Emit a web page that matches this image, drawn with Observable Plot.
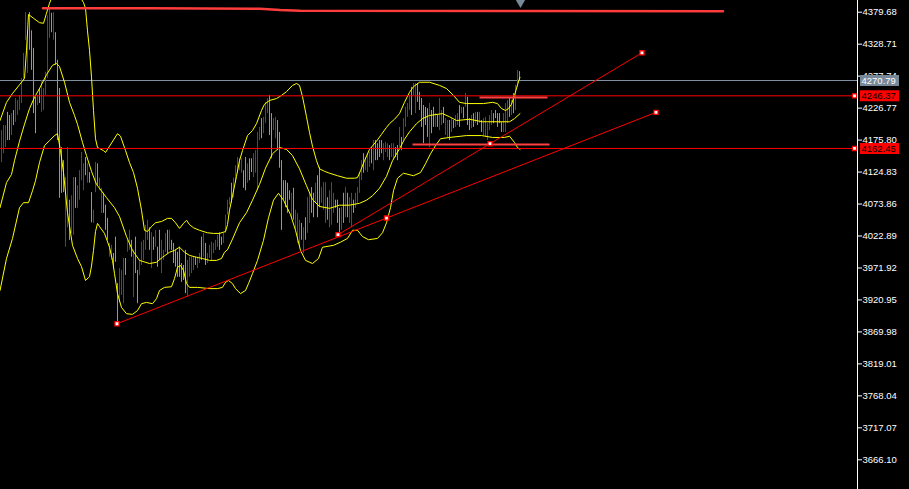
<!DOCTYPE html>
<html><head><meta charset="utf-8">
<script src="https://cdn.jsdelivr.net/npm/d3@7"></script>
<script src="https://cdn.jsdelivr.net/npm/@observablehq/plot@0.6"></script>
<style>
html,body{margin:0;padding:0;background:#000;overflow:hidden;}
#chart svg{display:block;}
</style></head><body><div id="chart"></div>
<script>
// ---- candle data (bar index 0..259), prices ----
const highs = [4191,4199,4199,4220,4215,4218,4223,4242,4239,4247,
4274,4314,4379,4350,4379,4350,4322,4244,4247,4258,
4271,4258,4284,4374,4386,4378,4379,4347,4303,4258,
4164,4143,4116,4164,4080,4087,4116,4116,4103,4127,
4156,4138,4148,4138,4124,4092,4064,4140,4138,4115,
4099,4091,4072,4051,4011,4008,3995,4021,3947,3971,
3968,3987,3987,4016,4032,4016,4000,4021,3968,3984,
4013,4016,4040,4048,4036,4028,4021,4032,4005,4032,
4016,4000,4027,4032,4032,4016,4011,4000,3997,4005,
3979,3976,4000,3984,3989,3989,3989,3989,3989,3995,
4021,4027,4011,3995,4008,4013,4011,4016,4024,4028,
4021,4027,4056,4080,4084,4107,4115,4135,4148,4146,
4146,4127,4148,4138,4146,4146,4154,4159,4188,4196,
4210,4212,4236,4242,4247,4218,4210,4212,4207,4188,
4143,4111,4111,4107,4095,4091,4099,4064,4059,4048,
4043,4036,4052,4084,4091,4100,4091,4107,4119,4132,
4100,4108,4108,4084,4095,4108,4091,4080,4080,4067,
4068,4091,4100,4091,4084,4091,4080,4091,4100,4123,
4143,4154,4148,4154,4156,4164,4175,4175,4170,4175,
4175,4170,4172,4170,4167,4170,4170,4164,4167,4196,
4180,4210,4228,4234,4247,4260,4266,4266,4266,4252,
4242,4231,4228,4226,4234,4223,4228,4218,4215,4242,
4223,4228,4210,4207,4207,4210,4207,4215,4218,4231,
4228,4228,4250,4244,4210,4215,4218,4220,4220,4220,
4207,4210,4212,4202,4215,4223,4218,4223,4218,4218,
4204,4218,4234,4239,4242,4239,4250,4263,4287,4285];
const lows = [4140,4154,4164,4175,4175,4183,4199,4204,4215,4223,
4234,4271,4335,4282,4319,4287,4218,4186,4231,4234,
4220,4223,4247,4274,4338,4347,4335,4295,4175,4083,
4091,4092,4005,4036,4016,4027,4024,4067,4067,4080,
4111,4095,4119,4107,4107,4044,4043,4092,4103,4095,
4059,4059,4032,4016,3989,3984,3971,3981,3885,3917,
3928,3915,3960,3997,4000,3989,3925,3963,3915,3960,
3976,3984,4000,4016,4000,3971,4000,4005,3973,3984,
3963,3984,3997,3995,4000,4000,3979,3973,3957,3957,
3949,3952,3931,3925,3957,3963,3968,3976,3971,3979,
3984,3989,3976,3979,3987,3984,3995,4000,4005,4000,
4008,4011,4027,4056,4072,4075,4084,4107,4123,4127,
4123,4099,4095,4107,4111,4124,4116,4123,4095,4175,
4178,4186,4202,4218,4183,4146,4191,4178,4159,4131,
4032,4080,4068,4059,4080,4052,4048,4032,4011,4005,
4016,3995,4016,4027,4043,4059,4052,4075,4052,4068,
4075,4064,4043,4048,4036,4040,4059,4067,4043,4027,
4032,4043,4052,4052,4043,4036,4059,4067,4075,4091,
4111,4123,4127,4124,4132,4138,4127,4143,4143,4148,
4154,4143,4156,4148,4143,4148,4143,4148,4143,4164,
4159,4175,4196,4212,4223,4215,4247,4218,4236,4223,
4196,4170,4199,4180,4164,4186,4196,4196,4196,4191,
4199,4202,4183,4180,4175,4188,4194,4196,4199,4196,
4218,4210,4228,4199,4191,4194,4196,4202,4199,4202,
4188,4183,4180,4175,4191,4199,4202,4210,4196,4202,
4188,4188,4188,4202,4212,4215,4218,4223,4260,4271];
// r = rising candle (red), g = falling candle (green)
const candleDir = ("rrrggrgrrr"+"rrrrggggrg"+"rrrrrgrggg"+"ggrrgrrgrr"+"rrgrggrrgr"+
"rgggrrgggr"+"rrgrrgrggr"+"rrrrgrgrgg"+"rrrgrggggg"+"gggrrrrgrr"+
"grgrrrrrrg"+"grrrrgrrrr"+"rggrggrrrr"+"grrrggrrgg"+"gggggrgrrr"+
"grgrrggrgg"+"rrrgrrrggg"+"rgrgrrgrrr"+"rgrrrgrggg"+"grrrgrrggr"+
"grrrrgrrgg"+"ggggrggrgr"+"rgrrgrgrrg"+"rgrggrgrgr"+"grrrrrgggg"+"grrrgrgrrg").split("");

// ---- Bollinger bands (bar index, price) ----
const upperIdx = [-0.75,2.5,5.5,9,11.5,12.5,13.5,16,19,21,22.5,24,27,32,37,39.5,41,42,43,44,45,46,47,48,51,52,54,58,59.5,62,64,66,68,70,71.5,73,75,77,80,83,85,87,89,91,92.5,94,96,99,103,106,109,112,113,114,115.5,117.5,119,120.5,123,125.5,127.5,130,131.5,134,137.5,140,142.5,145.5,147.5,149,150.5,152.5,154,155.5,157.5,159,161.5,164,168,172.5,176.5,178,179.5,181.5,184,187.5,190,192.5,194,196.5,199,201.5,204,206,209,214,219,222.5,226,229,232.5,241,245.5,248,250,252,253.5,255,256.5,258,259.25];
const upperVal = [4207,4236,4250,4264,4274,4319,4376,4370,4363,4362,4378,4394,4417,4438,4422,4403,4395,4386,4350,4319,4276,4223,4178,4164,4159,4156,4166,4186,4182,4159,4140,4124,4099,4064,4032,4030,4038,4044,4046,4051,4051,4044,4035,4043,4048,4041,4036,4032,4028,4027,4027,4030,4041,4064,4087,4118,4143,4159,4183,4191,4202,4223,4233,4239,4242,4247,4253,4263,4266,4263,4245,4213,4188,4166,4143,4130,4126,4123,4119,4115,4115,4116,4127,4143,4161,4174,4185,4196,4202,4209,4218,4236,4252,4261,4268,4268,4263,4258,4247,4236,4234,4234,4236,4234,4226,4223,4226,4233,4247,4264,4276];
const middleIdx = [-0.75,2.5,5,6.5,9,11.5,14,16.5,19,22.5,25.5,27.5,29,31.5,34,36.5,38,40.5,42.5,45,47.5,49,52.5,56.5,59,62.5,65.5,69,74,77.5,80.5,84,86.5,89,91.5,94,97.5,100.5,104,107.5,110,111.5,113,115.5,119,122.5,125.5,129,132,135.5,139,142.5,145.5,149,152.5,155.5,159,164,169,174,179,182.5,185.5,189,192.5,195.5,199,201.5,204,207.5,210.5,214,220.5,224,227.5,234,240.5,249,254,256.5,259.25];
const middleVal = [4068,4108,4121,4143,4174,4201,4226,4244,4258,4280,4295,4298,4293,4268,4236,4215,4201,4172,4151,4126,4105,4099,4084,4068,4054,4022,4000,3984,3979,3981,3989,3997,4000,4005,3997,3992,3989,3987,3984,3984,3987,3997,4001,4018,4044,4060,4080,4105,4131,4154,4164,4161,4151,4130,4103,4081,4070,4067,4072,4072,4075,4080,4087,4099,4118,4143,4162,4177,4189,4202,4210,4215,4218,4213,4207,4209,4205,4205,4205,4210,4218];
const lowerIdx = [-0.75,2.5,5.5,9,11,13.5,15.5,17,19,21.5,24,26.5,28,29.5,31,33,35.5,38,40,42,44,45,46,47,48,49,51.5,54,55.5,56.5,58,60,62.5,65.5,68,70,72.5,75.5,77.5,79,81.5,85,86.5,88,89.5,91,92.5,94,98,104,108,110.5,112,113.5,115.5,117,119.5,122,123.5,125.5,128,131,133.5,136,138.5,141,144.5,147,149.5,152,155.5,158.5,160.5,166,169.5,173,175.5,178,180.5,183.5,188,190.5,192.5,194.5,196,198,201,206,209.5,212,214.5,217,219.5,224,232.5,240,245.5,251.5,254,256.5,258,259.25];
const lowerVal = [3936,3987,4019,4068,4076,4076,4095,4111,4140,4167,4175,4183,4186,4159,4124,4060,4008,3987,3974,3952,3958,3975,4000,4030,4043,4038,4027,4005,3984,3963,3931,3909,3899,3898,3904,3915,3917,3915,3923,3936,3941,3942,3955,3973,3976,3968,3947,3941,3941,3939,3939,3941,3949,3952,3947,3939,3931,3936,3947,3963,3984,4016,4052,4080,4091,4080,4057,4032,4000,3984,3979,3987,4005,4008,4013,4019,4032,4032,4022,4017,4019,4028,4044,4068,4095,4115,4123,4119,4124,4138,4154,4167,4178,4180,4183,4183,4180,4180,4182,4172,4164,4161];

// ---- objects ----
const trendA = {idx: [57.75, 327.25], price: [3883, 4220]};
const trendB = {idx: [168.25, 320.25], price: [4025, 4315]};
const levelPrices = [4246.37, 4162.45];
const bidPrice = 4270.79;
const topLineIdx = [20.75, 74.25, 129.25, 139.25, 149.25, 360.75];
const topLineVal = [4386, 4386, 4385, 4383, 4382, 4381];
const rangeHigh = {idx: [239.25, 273.25], price: 4243.6};
const rangeLow = {idx: [205.75, 274.25], price: 4168.8};
const tickValues = [4379.68,4328.71,4277.74,4226.77,4175.80,4124.83,4073.86,4022.89,3971.92,3920.95,3869.98,3819.01,3768.04,3717.07,3666.10,3615.13];

// ---- build tables ----
const bars = highs.map((h, i) => ({i, high: h, low: lows[i], dir: candleDir[i]}));
const band = (xs, vs) => xs.map((x, k) => ({x, y: vs[k]}));
const upper = band(upperIdx, upperVal), middle = band(middleIdx, middleVal), lower = band(lowerIdx, lowerVal);
const seg = (t) => t.idx.map((x, k) => ({x, y: t.price[k]}));
const withMid = (t) => [
  {x: t.idx[0], y: t.price[0]},
  {x: (t.idx[0] + t.idx[1]) / 2, y: (t.price[0] + t.price[1]) / 2},
  {x: t.idx[1], y: t.price[1]}];
const markers = [...withMid(trendA), ...withMid(trendB)];
const xDomain = [-0.5, 428];
const boxes = [
  {price: bidPrice, fill: "#778899", text: "#ffffff"},
  {price: levelPrices[0], fill: "#ff0000", text: "#000000"},
  {price: levelPrices[1], fill: "#ff0000", text: "#000000"}];

const RED = "#ff0000", GREEN = "#00ff00", YEL = "#ffff00";

const chart = Plot.plot({
  width: 909, height: 489,
  marginLeft: 0, marginRight: 52, marginTop: 0, marginBottom: 0,
  style: {background: "#000", color: "#fff", fontSize: "9.5px", fontFamily: "'Liberation Sans', Arial, sans-serif"},
  x: {domain: xDomain, axis: null},
  y: {domain: [3618.75, 4398.33], axis: "right", ticks: tickValues, tickFormat: d => d.toFixed(2), tickSize: 4, tickPadding: 1, label: null},
  marks: [
    Plot.ruleY([bidPrice], {stroke: "#7f8fa0", strokeWidth: 1}),
    Plot.ruleX(bars, {x: "i", y1: "low", y2: "high", stroke: d => d.dir === "r" ? RED : GREEN, strokeWidth: 1}),
    Plot.line(upper, {x: "x", y: "y", stroke: YEL, strokeWidth: 1}),
    Plot.line(middle, {x: "x", y: "y", stroke: YEL, strokeWidth: 1}),
    Plot.line(lower, {x: "x", y: "y", stroke: YEL, strokeWidth: 1}),
    Plot.ruleY(levelPrices, {stroke: RED, strokeWidth: 1}),
    Plot.line(seg(trendA), {x: "x", y: "y", stroke: RED, strokeWidth: 1}),
    Plot.line(seg(trendB), {x: "x", y: "y", stroke: RED, strokeWidth: 1}),
    Plot.line(topLineIdx.map((x, k) => ({x, y: topLineVal[k]})), {x: "x", y: "y", stroke: "#ff3c3c", strokeWidth: 2.5}),
    Plot.ruleY([rangeHigh], {y: "price", x1: d => d.idx[0], x2: d => d.idx[1], stroke: "#ff4040", strokeWidth: 2}),
    Plot.ruleY([rangeLow], {y: "price", x1: d => d.idx[0], x2: d => d.idx[1], stroke: "#ff4040", strokeWidth: 2}),
    Plot.dot(markers, {x: "x", y: "y", symbol: "square", r: 2.3, fill: "#fff", stroke: RED, strokeWidth: 1.3}),
    Plot.dot(levelPrices, {x: 426.5, y: d => d, symbol: "square", r: 2.3, fill: "#fff", stroke: RED, strokeWidth: 1.3}),
    Plot.ruleX([428], {stroke: "#fff", strokeWidth: 1}),
    Plot.ruleY(boxes, {y: "price", x1: 429.5, x2: 449, stroke: "fill", strokeWidth: 11}),
    Plot.text(boxes, {x: 430, y: "price", text: d => d.price.toFixed(2), fill: "text", textAnchor: "start"}),
    Plot.dot([{x: 259.5, y: 4396.2}], {x: "x", y: "y", symbol: "triangle", rotate: 180, r: 4, fill: "#778899"})
  ]
});
document.getElementById("chart").appendChild(chart);
</script></body></html>
